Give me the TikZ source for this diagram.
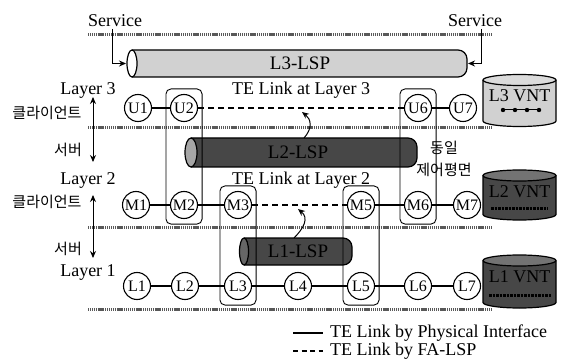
\documentclass[tikz,border=0pt]{standalone}
\usepackage{fontspec}
\setmainfont{Liberation Serif}
\newfontfamily\krfont{Noto Sans CJK KR}
\usetikzlibrary{arrows.meta,fit}
\begin{document}
\begin{tikzpicture}[x=1pt,y=-1pt,
  nd/.style={circle,draw,line width=1.1pt,fill=white,minimum size=27pt,inner sep=0pt,font=\fontsize{16}{16}\selectfont},
  lbl/.style={font=\fontsize{18}{20}\selectfont,inner sep=0pt},
  tubelbl/.style={font=\fontsize{19}{20}\selectfont,inner sep=0pt},
  krl/.style={font=\krfont\fontsize{15}{22}\selectfont,inner sep=0pt,align=center},
  layerline/.style={line width=3pt,black!65,dash pattern=on 1.2pt off 0.7pt},
  phys/.style={line width=1.4pt},
  fa/.style={line width=1.9pt,dash pattern=on 6pt off 4pt},
  cpbox/.style={draw,rounded corners=5pt,line width=0.9pt,inner xsep=4pt,inner ysep=5pt},
  arr/.style={-{Stealth[length=7pt,width=6pt]},line width=1pt},
  darr/.style={{Stealth[length=7pt,width=6pt]}-{Stealth[length=7pt,width=6pt]},line width=1pt},
  tube/.style={line width=1.2pt,rounded corners=9pt},
  cyl/.style={line width=1.2pt}
]
\useasboundingbox (0,0) rectangle (569,363);

% layer boundaries
\draw[layerline] (88,35) -- (492,35);
\draw[layerline] (88,128) -- (492,128);
\draw[layerline] (88,227) -- (492,227);
\draw[layerline] (88,309) -- (492,309);

% L3-LSP tube
\draw[tube,fill=black!18] (132,50) -- (467,50) -- (467,77) -- (132,77);
\draw[line width=1.2pt,fill=white] (132,63.5) ellipse [x radius=5pt,y radius=13.5pt];
\node[tubelbl] (t3) at (300,63.5) {L3-LSP};
% L2-LSP tube
\draw[tube,fill=black!72] (191,138) -- (417,138) -- (417,167) -- (191,167);
\draw[line width=1.2pt,fill=black!35] (191,152.5) ellipse [x radius=6pt,y radius=14.5pt];
\node[tubelbl,text=black] (t2) at (298,152.5) {L2-LSP};
% L1-LSP tube
\draw[tube,fill=black!72] (244,238) -- (352,238) -- (352,265) -- (244,265);
\draw[line width=1.2pt,fill=black!60] (244,251.5) ellipse [x radius=4.5pt,y radius=13.5pt];
\node[tubelbl,text=black] (t1) at (298,251.5) {L1-LSP};

% nodes
\node[nd] (U1) at (138,108) {U1};
\node[nd] (U2) at (184,108) {U2};
\node[nd] (U6) at (418,108) {U6};
\node[nd] (U7) at (463,108) {U7};
\node[nd] (M1) at (136,205) {M1};
\node[nd] (M2) at (184,205) {M2};
\node[nd] (M3) at (238,205) {M3};
\node[nd] (M5) at (361,205) {M5};
\node[nd] (M6) at (418,205) {M6};
\node[nd] (M7) at (467,205) {M7};
\node[nd] (L1) at (137,286) {L1};
\node[nd] (L2) at (185,286) {L2};
\node[nd] (L3) at (238,286) {L3};
\node[nd] (L4) at (298,286) {L4};
\node[nd] (L5) at (361,286) {L5};
\node[nd] (L6) at (418,286) {L6};
\node[nd] (L7) at (467,286) {L7};

% control plane boxes
\node[cpbox,fit=(U2)(M2)] (cp1) {};
\node[cpbox,fit=(U6)(M6)] (cp2) {};
\node[cpbox,fit=(M3)(L3)] (cp3) {};
\node[cpbox,fit=(M5)(L5)] (cp4) {};

% links
\draw[phys] (U1) -- (U2);
\draw[fa] (U2) -- (U6);
\draw[phys] (U6) -- (U7);
\draw[phys] (M1) -- (M2);
\draw[phys] (M2) -- (M3);
\draw[fa] (M3) -- (M5);
\draw[phys] (M5) -- (M6);
\draw[phys] (M6) -- (M7);
\draw[phys] (L1) -- (L2);
\draw[phys] (L2) -- (L3);
\draw[phys] (L3) -- (L4);
\draw[phys] (L4) -- (L5);
\draw[phys] (L5) -- (L6);
\draw[phys] (L6) -- (L7);

% FA arrows
\coordinate (a1s) at (304,138);
\coordinate (a1e) at (302,112);
\draw[arr] (a1s) .. controls (313,128) and (311,119) .. (a1e);
\coordinate (a2s) at (294,238);
\coordinate (a2e) at (298,209);
\draw[arr] (a2s) .. controls (304,228) and (309,218) .. (a2e);

% services
\node[lbl,anchor=base] (svL) at (115,27) {Service};
\node[lbl,anchor=base] (svR) at (475,27) {Service};
\coordinate (svLs) at (112,29);
\coordinate (t3w) at (126,63.5);
\draw[arr] (svLs) |- (t3w);
\coordinate (svRs) at (481,29);
\coordinate (t3e) at (468,63.5);
\draw[arr] (svRs) |- (t3e);

% TE link labels
\node[lbl,anchor=base] (te3) at (301,95) {TE Link at Layer 3};
\node[lbl,anchor=base] (te2) at (301,185) {TE Link at Layer 2};

% left labels
\node[lbl,anchor=base] (ly3) at (88,95) {Layer 3};
\node[lbl,anchor=base] (ly2) at (88,185) {Layer 2};
\node[lbl,anchor=base] (ly1) at (88,276) {Layer 1};
\node[krl] (c3) at (47,112.5) {클라이언트};
\node[krl] (s2) at (68,150) {서버};
\node[krl] (c2) at (47,202) {클라이언트};
\node[krl] (s1) at (68,249) {서버};
\coordinate (ar1a) at (93,97);
\coordinate (ar1b) at (93,162);
\draw[darr] (ar1a) -- (ar1b);
\coordinate (ar2a) at (93,195);
\coordinate (ar2b) at (93,258);
\draw[darr] (ar2a) -- (ar2b);

% same control plane
\node[krl] (same) at (444,159) {동일\\제어평면};

% VNT cylinders
\draw[cyl,fill=black!18] (483,80) -- (483,121) arc[start angle=180,end angle=360,x radius=36.5pt,y radius=5.5pt] -- (556,80);
\draw[cyl,fill=black!14] (519.5,80) ellipse [x radius=36.5pt,y radius=5.5pt];
\node[lbl] (v3) at (519.5,96) {L3 VNT};
\draw[line width=1pt] (503,110) -- (539,110);
\foreach \xx in {503,515,527,539} \fill (\xx,110) circle [radius=2.2pt];

\draw[cyl,fill=black!72] (483,175.5) -- (483,214.5) arc[start angle=180,end angle=360,x radius=36.5pt,y radius=5.5pt] -- (556,175.5);
\draw[cyl,fill=black!55] (519.5,175.5) ellipse [x radius=36.5pt,y radius=5.5pt];
\node[lbl,text=black] (v2) at (519.5,192) {L2 VNT};
\draw[line width=3pt,dash pattern=on 2.5pt off 1pt] (491,208) -- (548,208);

\draw[cyl,fill=black!72] (483,260.5) -- (483,302.5) arc[start angle=180,end angle=360,x radius=36.5pt,y radius=5.5pt] -- (556,260.5);
\draw[cyl,fill=black!55] (519.5,260.5) ellipse [x radius=36.5pt,y radius=5.5pt];
\node[lbl,text=black] (v1) at (519.5,277) {L1 VNT};
\draw[line width=3pt,dash pattern=on 2.5pt off 1pt] (489,295) -- (551,295);

% legend
\coordinate (lg1a) at (293,333);
\coordinate (lg1b) at (323,333);
\draw[phys] (lg1a) -- (lg1b);
\node[lbl,anchor=west] (lg1) at (330,333) {TE Link by Physical Interface};
\coordinate (lg2a) at (293,351);
\coordinate (lg2b) at (323,351);
\draw[fa,dash pattern=on 5pt off 3.5pt] (lg2a) -- (lg2b);
\node[lbl,anchor=west] (lg2) at (330,351) {TE Link by FA-LSP};
\end{tikzpicture}
\end{document}
